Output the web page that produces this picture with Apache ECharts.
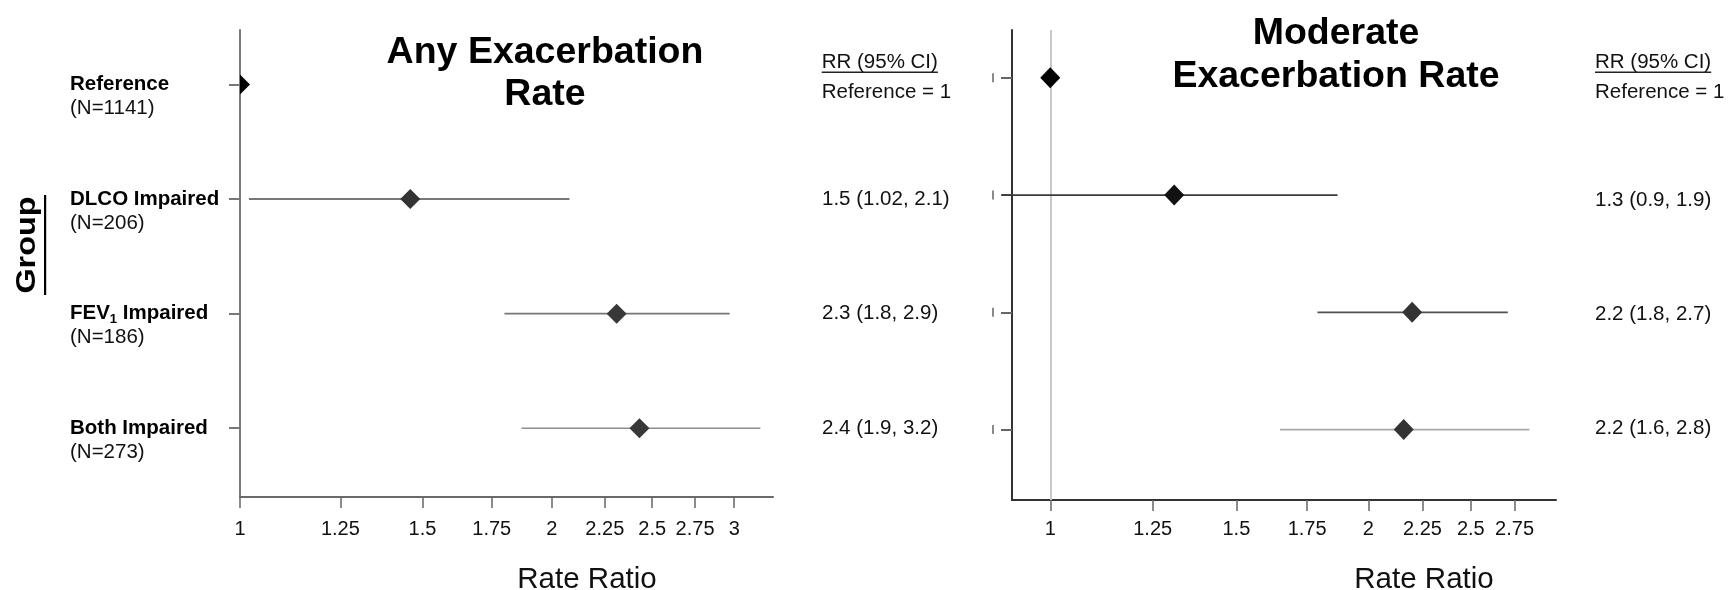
<!DOCTYPE html>
<html><head><meta charset="utf-8">
<script src="https://cdn.jsdelivr.net/npm/echarts@6/dist/echarts.min.js"></script>
<style>html,body{margin:0;padding:0;background:#fff}#c{width:1731px;height:590px}</style>
</head><body><div id="c"></div>
<script>
// ---------- data ----------
const groups = ['Reference', 'DLCO Impaired', 'FEV1 Impaired', 'Both Impaired'];
const groupN = ['(N=1141)', '(N=206)', '(N=186)', '(N=273)'];
const anyRR   = [1, 1.46, 2.31, 2.43];
const anyLow  = [null, 1.02, 1.80, 1.87];
const anyHigh = [null, 2.08, 2.97, 3.18];
const anyText = ['Reference = 1', '1.5 (1.02, 2.1)', '2.3 (1.8, 2.9)', '2.4 (1.9, 3.2)'];
const modRR   = [1, 1.31, 2.20, 2.16];
const modLow  = [null, 0.90, 1.79, 1.65];
const modHigh = [null, 1.87, 2.71, 2.84];
const modText = ['Reference = 1', '1.3 (0.9, 1.9)', '2.2 (1.8, 2.7)', '2.2 (1.6, 2.8)'];
const anyTicks = [1, 1.25, 1.5, 1.75, 2, 2.25, 2.5, 2.75, 3];
const modTicks = [1, 1.25, 1.5, 1.75, 2, 2.25, 2.5, 2.75];
const panelTitles = ['Any Exacerbation\nRate', 'Moderate\nExacerbation Rate'];
const rrHeader = 'RR (95% CI)';
const xName = 'Rate Ratio';
const yName = 'Group';
const anyRange = [1, 3.27];
const modRange = [0.92, 3.01];

// ---------- styles ----------
const FONT = "'Liberation Sans', Arial, sans-serif";
const anyDiamond = ['#000000', '#333333', '#383838', '#383838'];
const anyLine    = ['#000', '#4a4a4a', '#777777', '#8e8e8e'];
const modDiamond = ['#000000', '#111111', '#333333', '#333333'];
const modLine    = ['#000', '#3a3a3a', '#505050', '#a8a8a8'];

const ln = Math.log;
const rowY = i => 3 - i;
const fmtTick = v => String(+Math.exp(v).toFixed(2));

function ciData(lo, hi) {
  const out = [];
  lo.forEach((l, i) => { if (l != null) out.push([ln(l), ln(hi[i]), rowY(i), i]); });
  return out;
}
function ptData(rr) {
  return rr.map((v, i) => [ln(v), rowY(i), i]);
}
function ciRender(colors, width) {
  return function (params, api) {
    const y = api.value(2);
    const p1 = api.coord([api.value(0), y]);
    const p2 = api.coord([api.value(1), y]);
    return { type: 'line', shape: { x1: p1[0], y1: p1[1], x2: p2[0], y2: p2[1] },
             style: { stroke: colors[api.value(3)], lineWidth: width } };
  };
}
function diamondRender(colors, w, h) {
  return function (params, api) {
    const p = api.coord([api.value(0), api.value(1)]);
    return { type: 'polygon',
      shape: { points: [[p[0], p[1] - h / 2], [p[0] + w / 2, p[1]], [p[0], p[1] + h / 2], [p[0] - w / 2, p[1]]] },
      style: { fill: colors[api.value(2)] } };
  };
}
function groupLabel(v) {
  const i = 3 - Math.round(v);
  const name = groups[i];
  let main;
  if (name.indexOf('FEV1') === 0) main = '{b|FEV}{s|1}{b|' + name.slice(4) + '}';
  else main = '{b|' + name + '}';
  return '{e| }\n' + main + '\n{n|' + groupN[i] + '}';
}

const c = document.createElement('canvas').getContext('2d');
c.font = '20.5px ' + FONT;
const headerW = c.measureText(rrHeader).width;

function xAxisDef(grid, range, ticks, lineColor, namePad, labelMargin, nameGap) {
  const tv = ticks.map(ln);
  return {
    type: 'value', gridIndex: grid, min: ln(range[0]), max: ln(range[1]),
    splitLine: { show: false },
    axisLine: { show: true, onZero: false, lineStyle: { color: lineColor, width: 2 } },
    axisTick: { show: true, customValues: tv, length: 11, lineStyle: { color: '#666', width: 1.5 } },
    axisLabel: { customValues: tv, formatter: fmtTick, fontSize: 20, color: '#111', margin: labelMargin, fontFamily: FONT },
    name: xName, nameLocation: 'middle', nameGap: nameGap,
    nameTextStyle: { fontSize: 29.5, color: '#111', fontFamily: FONT, padding: [0, 0, 0, namePad] }
  };
}

const rich2 = { u: { fontSize: 20.5, lineHeight: 29.6, color: '#111', fontWeight: 'normal', fontFamily: FONT },
                r: { fontSize: 20.5, lineHeight: 29.6, color: '#111', fontWeight: 'normal', fontFamily: FONT } };

const option = {
  animation: false,
  textStyle: { fontFamily: FONT },
  grid: [
    { left: 240, top: 30, width: 533, height: 467, containLabel: false, outerBoundsMode: 'none' },
    { left: 1012, top: 30, width: 544, height: 470, containLabel: false, outerBoundsMode: 'none' }
  ],
  xAxis: [
    xAxisDef(0, anyRange, anyTicks, '#6a6a6a', 161, 22, 68),
    xAxisDef(1, modRange, modTicks, '#333', 280, 19, 65)
  ],
  yAxis: [
    { type: 'value', gridIndex: 0, min: -0.6, max: 3.475, position: 'left',
      splitLine: { show: false },
      axisLine: { show: true, onZero: false, lineStyle: { color: '#7a7a7a', width: 2 } },
      axisTick: { show: true, customValues: [0, 1, 2, 3], length: 11, lineStyle: { color: '#777', width: 2 } },
      axisLabel: { customValues: [0, 1, 2, 3], align: 'left', margin: 170, formatter: groupLabel,
        rich: {
          e: { fontSize: 20.5, lineHeight: 24, color: '#000' },
          b: { fontSize: 20.5, fontWeight: 'bold', lineHeight: 24, color: '#000' },
          s: { fontSize: 13, fontWeight: 'bold', lineHeight: 24, color: '#000', verticalAlign: 'bottom' },
          n: { fontSize: 20.5, lineHeight: 24, color: '#111' }
        } } },
    { type: 'value', gridIndex: 0, min: -0.6, max: 3.475, position: 'right',
      splitLine: { show: false }, axisLine: { show: false, onZero: false }, axisTick: { show: false },
      axisLabel: { customValues: [0, 1, 2], align: 'left', margin: 49, fontSize: 20.5, color: '#111',
        formatter: v => anyText[3 - Math.round(v)] } },
    { type: 'value', gridIndex: 1, min: -0.6, max: 3.407, position: 'left',
      splitLine: { show: false },
      axisLine: { show: true, onZero: false, lineStyle: { color: '#333', width: 2 } },
      axisTick: { show: true, customValues: [0, 1, 2, 3], length: 11, lineStyle: { color: '#666', width: 2 } },
      axisLabel: { customValues: [0, 1, 2, 3], align: 'right', margin: 18, formatter: () => '{m| }',
        rich: { m: { width: 2, height: 9, fontSize: 8, lineHeight: 9, backgroundColor: '#8a8a8a' } } } },
    { type: 'value', gridIndex: 1, min: -0.632, max: 3.491, position: 'right',
      splitLine: { show: false }, axisLine: { show: false, onZero: false }, axisTick: { show: false },
      axisLabel: { customValues: [0, 1, 2], align: 'left', margin: 39, fontSize: 20.5, color: '#111',
        formatter: v => modText[3 - Math.round(v)] } }
  ],
  title: [
    { text: panelTitles[0], left: 545, top: 32, textAlign: 'center', padding: 0,
      textStyle: { fontSize: 37.5, fontWeight: 'bold', lineHeight: 42, color: '#000', fontFamily: FONT } },
    { text: panelTitles[1], left: 1336, top: 12, textAlign: 'center', padding: 0,
      textStyle: { fontSize: 37.5, fontWeight: 'bold', lineHeight: 43, color: '#000', fontFamily: FONT } },
    { text: '{u|' + rrHeader + '}\n{r|' + anyText[0] + '}', left: 821.7, top: 47.9, padding: 0,
      textStyle: { fontWeight: 'normal', rich: rich2 } },
    { text: '{u|' + rrHeader + '}\n{r|' + modText[0] + '}', left: 1595, top: 47.9, padding: 0,
      textStyle: { fontWeight: 'normal', rich: rich2 } }
  ],
  graphic: [
    { type: 'rect', shape: { x: 821.7, y: 71.5, width: headerW, height: 1.5 }, style: { fill: '#222' } },
    { type: 'rect', shape: { x: 1595, y: 71.5, width: headerW, height: 1.5 }, style: { fill: '#222' } },
    { type: 'text', x: 28, y: 245, rotation: Math.PI / 2, scaleX: 1.2,
      style: { text: yName, font: 'bold 27px ' + FONT, fill: '#000', align: 'center', verticalAlign: 'middle' } },
    { type: 'rect', shape: { x: 44, y: 195, width: 2.2, height: 100 }, style: { fill: '#000' } }
  ],
  series: [
    { type: 'custom', xAxisIndex: 0, yAxisIndex: 0, z: 2, renderItem: ciRender(anyLine, 1.6),
      data: ciData(anyLow, anyHigh) },
    { type: 'custom', xAxisIndex: 0, yAxisIndex: 0, z: 4, clip: true, renderItem: diamondRender(anyDiamond, 20, 20),
      data: ptData(anyRR) },
    { type: 'custom', xAxisIndex: 1, yAxisIndex: 2, z: 2, renderItem: ciRender(modLine, 1.8), clip: false,
      data: ciData(modLow, modHigh),
      markLine: { silent: true, symbol: 'none', z: 1, label: { show: false },
        lineStyle: { color: '#c8c8c8', width: 2, type: 'solid' }, data: [{ xAxis: 0 }] } },
    { type: 'custom', xAxisIndex: 1, yAxisIndex: 2, z: 4, renderItem: diamondRender(modDiamond, 20, 21),
      data: ptData(modRR) }
  ]
};
const chart = echarts.init(document.getElementById('c'), null, { renderer: 'canvas' });
chart.setOption(option);
</script>
</body></html>
